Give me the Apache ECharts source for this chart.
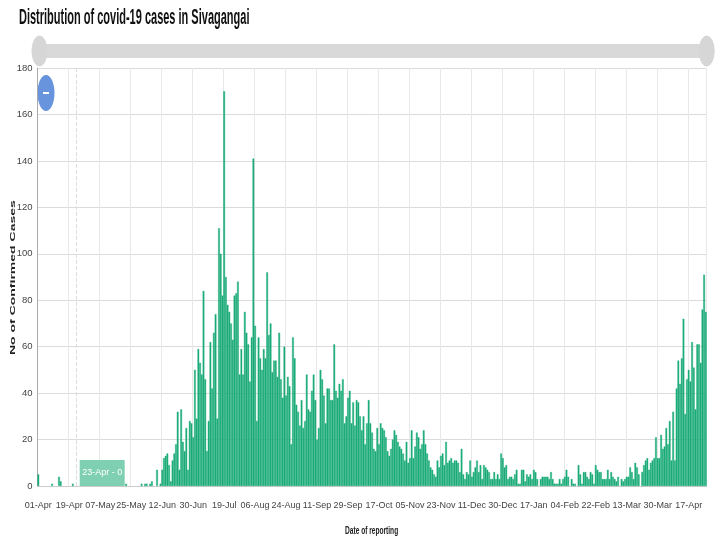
<!DOCTYPE html>
<html>
<head>
<meta charset="utf-8">
<style>
  html, body { margin: 0; padding: 0; background: #fff; }
  #chart { width: 720px; height: 540px; }
</style>
<script src="https://cdn.jsdelivr.net/npm/echarts@6/dist/echarts.min.js"></script>
</head>
<body>
<div id="chart"></div>
<script>
const FONT = '"Liberation Sans", sans-serif'

// every 18th reporting day gets a label on the axis
const tickLabels = [
  '01-Apr', '19-Apr', '07-May', '25-May', '12-Jun', '30-Jun', '19-Jul', '06-Aug',
  '24-Aug', '11-Sep', '29-Sep', '17-Oct', '05-Nov', '23-Nov', '11-Dec', '30-Dec',
  '17-Jan', '04-Feb', '22-Feb', '13-Mar', '30-Mar', '17-Apr'
]

const cases = [
  5, 0, 0, 0, 0, 0, 0, 0, 1, 0, 0, 0, 4, 2, 0, 0, 0, 0,
  0, 0, 1, 0, 0, 0, 0, 0, 0, 0, 0, 0, 0, 0, 0, 0, 0, 0,
  0, 0, 0, 0, 0, 0, 0, 0, 0, 0, 0, 0, 0, 0, 0, 1, 0, 0,
  0, 0, 0, 0, 0, 0, 1, 0, 1, 1, 0, 1, 2, 0, 0, 7, 0, 1,
  7, 12, 13, 14, 9, 2, 11, 14, 18, 32, 7, 33, 19, 15, 25, 7, 28, 27,
  21, 50, 29, 59, 53, 48, 84, 46, 15, 28, 62, 42, 66, 74, 29, 111, 100, 82,
  170, 90, 78, 75, 70, 63, 82, 83, 88, 48, 59, 48, 75, 66, 61, 45, 64, 141,
  69, 28, 64, 55, 50, 59, 55, 92, 65, 70, 49, 54, 54, 47, 66, 46, 38, 60,
  39, 47, 43, 18, 64, 55, 35, 32, 26, 37, 25, 28, 48, 33, 32, 41, 48, 37,
  20, 25, 50, 46, 39, 27, 42, 42, 37, 37, 61, 41, 38, 44, 41, 46, 27, 30,
  38, 41, 27, 36, 26, 37, 36, 30, 24, 30, 18, 27, 37, 27, 23, 16, 15, 25,
  18, 27, 25, 24, 21, 15, 13, 16, 20, 24, 22, 19, 17, 16, 14, 11, 19, 10,
  12, 24, 12, 17, 23, 21, 16, 18, 24, 18, 14, 11, 8, 7, 5, 4, 11, 8,
  13, 14, 9, 19, 10, 11, 12, 10, 11, 11, 10, 6, 16, 5, 3, 6, 5, 11,
  4, 6, 8, 11, 6, 9, 3, 9, 8, 7, 6, 3, 3, 6, 3, 5, 3, 14,
  12, 8, 9, 3, 4, 4, 3, 5, 7, 1, 1, 7, 7, 2, 5, 4, 5, 3,
  7, 6, 3, 0, 3, 4, 4, 4, 4, 3, 6, 3, 1, 1, 1, 3, 1, 3,
  4, 7, 4, 0, 3, 1, 1, 0, 9, 5, 1, 6, 6, 4, 3, 6, 5, 1,
  9, 7, 6, 6, 3, 3, 3, 7, 3, 6, 4, 3, 2, 4, 0, 3, 2, 3,
  4, 4, 8, 6, 3, 10, 8, 5, 0, 6, 9, 11, 12, 7, 10, 11, 12, 21,
  12, 12, 22, 16, 17, 25, 18, 28, 11, 32, 11, 42, 54, 44, 55, 72, 31, 46,
  50, 45, 62, 51, 33, 61, 61, 53, 76, 91, 75
]

const cursorDay = '23-Apr'

// fill the days between two labels, the labels themselves stay as they are
const dayName = (label, offset) => {
  const d = new Date(label + '-2021')
  d.setDate(d.getDate() + offset)
  return String(d.getDate()).padStart(2, '0') + '-' + d.toLocaleString('en-GB', { month: 'short' })
}
const categories = tickLabels
  .flatMap(label => Array.from({ length: 18 }, (_, i) => (i === 0 ? label : dayName(label, i))))
  .slice(0, cases.length)
const cursorIndex = categories.indexOf(cursorDay)

const chart = echarts.init(document.getElementById('chart'))

chart.setOption({
  animation: false,
  backgroundColor: '#fff',
  grid: { left: 37.5, right: 13.3, top: 68, bottom: 54, outerBoundsMode: 'none' },
  dataZoom: [{
    type: 'slider',
    xAxisIndex: 0,
    left: 37.5,
    right: 13.3,
    top: 44,
    height: 14,
    start: 0,
    end: 100,
    showDetail: false,
    showDataShadow: false,
    brushSelect: false,
    moveHandleSize: 0,
    backgroundColor: '#d9d9d9',
    fillerColor: '#d9d9d9',
    borderColor: 'transparent',
    handleIcon: 'path://M0,-15 A7.5,15 0 1 1 0,15 A7.5,15 0 1 1 0,-15 Z',
    handleSize: '215%',
    handleStyle: { color: '#d6d6d6', borderColor: '#d6d6d6' }
  }],
  xAxis: {
    type: 'category',
    data: categories,
    axisLine: { lineStyle: { color: '#ccc' } },
    axisTick: { show: false },
    axisLabel: {
      interval: 17,
      margin: 15,
      showMinLabel: true,
      fontFamily: FONT,
      fontSize: 9,
      color: '#444',
      hideOverlap: false
    },
    splitLine: { show: true, interval: 17, lineStyle: { color: '#e8e8e8' } }
  },
  yAxis: {
    type: 'value',
    min: 0,
    max: 180,
    interval: 20,
    axisLine: { show: true, lineStyle: { color: '#aaa' } },
    axisTick: { show: false },
    axisLabel: { margin: 5, fontFamily: FONT, fontSize: 9.5, color: '#444' },
    splitLine: { lineStyle: { color: '#dcdcdc' } }
  },
  series: [{
    type: 'bar',
    // no bar at all on empty days, the border would leave a line on the axis
    data: cases.map(v => (v === 0 ? null : v)),
    barWidth: '100%',
    itemStyle: { color: '#1bab78', borderColor: '#1bab78', borderWidth: 0.4 },
    markLine: {
      silent: true,
      symbol: 'none',
      label: { show: false },
      lineStyle: { color: '#ddd', type: 'dashed', width: 1 },
      data: [{ xAxis: cursorIndex }]
    },
    markPoint: {
      silent: true,
      symbol: 'rect',
      symbolSize: [45, 26],
      symbolOffset: [26, -13],
      itemStyle: { color: '#7fd0b2', borderWidth: 0 },
      label: {
        show: true,
        position: 'inside',
        formatter: cursorDay + ' - ' + cases[cursorIndex],
        fontFamily: FONT,
        fontSize: 9,
        color: '#fff'
      },
      data: [{ coord: [cursorIndex, 0] }]
    }
  }],
  // squeezed and stretched the same way as the original texts
  graphic: [
    {
      type: 'text',
      x: 19, y: 7, scaleX: 0.5,
      style: { text: 'Distribution of covid-19 cases in Sivagangai', font: 'bold 22px ' + FONT, fill: '#111' }
    },
    {
      type: 'text',
      x: 9, y: 355, rotation: Math.PI / 2, scaleX: 1.75,
      style: { text: 'No of Confirmed Cases', font: 'bold 8px ' + FONT, fill: '#222', textAlign: 'left' }
    },
    {
      type: 'text',
      x: 345, y: 526, scaleX: 0.66,
      style: { text: 'Date of reporting', font: 'bold 10px ' + FONT, fill: '#222' }
    },
    { type: 'ellipse', shape: { cx: 46, cy: 93, rx: 8.5, ry: 18 }, style: { fill: '#6794dc' } },
    { type: 'rect', shape: { x: 43, y: 92, width: 6, height: 2 }, style: { fill: '#fff' } }
  ]
})
</script>
</body>
</html>
